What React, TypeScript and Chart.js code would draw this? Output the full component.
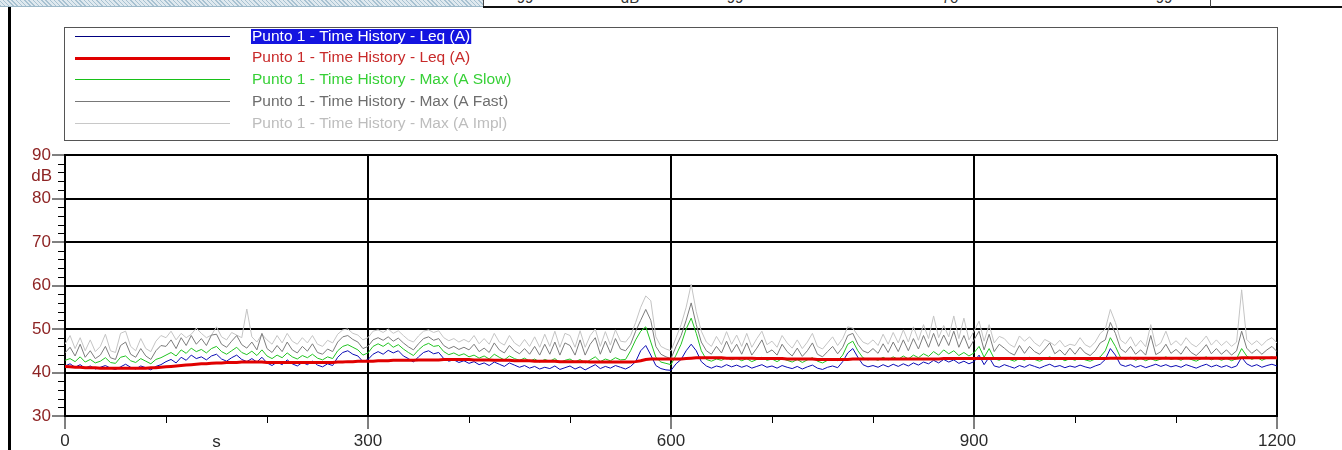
import React, { useEffect, useRef } from "react";
import { Chart, registerables } from "chart.js";

Chart.register(...registerables);

// sample times (s), one every 5 s from 0 to 1200
const times: number[] = Array.from({ length: 241 }, (_, i) => i * 5);

const xTickValues = [0, 300, 600, 900, 1200];
const yTickValues = [30, 40, 50, 60, 70, 80, 90];

const legendLabels = [
  "Punto 1 - Time History - Leq (A)",
  "Punto 1 - Time History - Leq (A)",
  "Punto 1 - Time History - Max (A Slow)",
  "Punto 1 - Time History - Max (A Fast)",
  "Punto 1 - Time History - Max (A Impl)",
];

const topStripTexts = ["99", "dB", "99", "70", "99"];

// Leq (A) short, blue
const leqShort = [
  41.5, 42, 41.2, 41.8, 41, 41.5, 40.8, 41.2, 41.6, 41, 40.7, 41.3, 41.9, 41.2, 40.8, 41.5, 41.1, 40.6, 41.4, 41.8,
  42.5, 43, 42.2, 43.5, 42.8, 44, 43.2, 43.6, 42.9, 43.8, 44.2, 43.1, 42.6, 43.4, 44, 43, 42.5, 43.2, 42.4, 43.5,
  42.2, 41.6, 42.4, 41.8, 42.9, 42, 41.5, 42.3, 41.8, 42.6, 41.7, 41.3, 42, 41.6, 43.5, 44.6, 45, 44.2, 43.8, 42.5,
  43, 44.2, 44.8, 44.2, 45.1, 44.5, 45, 43.8, 43.2, 42.4, 43.6, 44.6, 45, 44.3, 44.6, 43.2, 42.6, 42.9, 42.3, 42.7,
  42.1, 42.5, 41.8, 42.2, 41.6, 42.4, 41.9, 41.4, 42.2, 41.7, 41.2, 41.6, 41, 41.4, 40.8, 41.2, 40.9, 41.5, 40.7, 41.1,
  41.5, 40.8, 41.3, 40.6, 41.2, 41.8, 40.9, 41.4, 41, 41.6, 41.2, 40.8, 41.4, 42.5, 45, 46.2, 44, 41.6, 40.9, 40.6,
  40.5, 42, 43, 45, 46.5, 45, 42.5, 41.5, 41, 41.5, 41.2, 41.8, 41.3, 41.7, 41.2, 41.6, 41, 41.4, 41.8, 41.2,
  41.5, 41, 41.6, 41.2, 40.9, 41.4, 40.8, 41.3, 41.7, 41, 40.7, 41.2, 41.5, 41.1, 42.5, 44.5, 45.5, 43.5, 41.8, 41.3,
  41.6, 41.2, 41.8, 41.3, 41.9, 41.4, 42, 41.5, 42.2, 41.7, 42.4, 42, 42.8, 42.2, 43, 42.4, 42.9, 42.1, 42.6, 42,
  42.5, 44, 41.8, 43.5, 41.5, 41.2, 41.8, 41.4, 41, 41.6, 41.2, 41.8, 41.4, 41, 41.5, 41.9, 41.3, 41.6, 41.1, 41.5,
  41.2, 41.7, 41.3, 41, 41.5, 41.9, 43, 45.5, 44, 41.8, 41.4, 41.8, 41.2, 41.6, 41.1, 41.5, 41.9, 41.4, 41.8, 41.3,
  41.6, 41.2, 41.8, 41.4, 41, 41.5, 41.9, 41.3, 41.7, 41.2, 41.6, 41.1, 41.5, 43.5, 42, 41.4, 41.8, 41.2, 41.6, 41.9,
  41.5,
];

// Leq (A) running, red
const leqRunning = [
  41.4, 41.3, 41.2, 41.2, 41.1, 41.1, 41.1, 41, 41, 41, 41, 41, 41, 41, 41, 41, 41, 41.1, 41.1, 41.2,
  41.3, 41.4, 41.5, 41.6, 41.7, 41.8, 41.9, 42, 42, 42.1, 42.2, 42.2, 42.3, 42.3, 42.3, 42.4, 42.4, 42.4, 42.4, 42.4,
  42.3, 42.3, 42.3, 42.3, 42.3, 42.3, 42.3, 42.3, 42.3, 42.3, 42.3, 42.3, 42.3, 42.3, 42.4, 42.4, 42.5, 42.5, 42.6, 42.6,
  42.6, 42.6, 42.7, 42.7, 42.7, 42.8, 42.8, 42.8, 42.8, 42.8, 42.9, 42.9, 42.9, 42.9, 42.9, 43, 43, 43, 43, 43,
  43, 42.9, 42.9, 42.9, 42.9, 42.8, 42.8, 42.8, 42.8, 42.7, 42.7, 42.7, 42.7, 42.6, 42.6, 42.6, 42.6, 42.6, 42.5, 42.5,
  42.5, 42.5, 42.5, 42.5, 42.4, 42.4, 42.4, 42.4, 42.4, 42.4, 42.4, 42.4, 42.4, 42.5, 42.7, 43, 43.1, 43.1, 43.1, 43.1,
  43.1, 43.1, 43.1, 43.2, 43.3, 43.4, 43.4, 43.4, 43.4, 43.4, 43.4, 43.3, 43.3, 43.3, 43.3, 43.3, 43.3, 43.2, 43.2, 43.2,
  43.2, 43.2, 43.2, 43.1, 43.1, 43.1, 43.1, 43.1, 43.1, 43, 43, 43, 43, 43, 43, 43, 43.1, 43.1, 43.1, 43.1,
  43.1, 43.1, 43.1, 43.1, 43.1, 43.1, 43.1, 43.1, 43.1, 43.1, 43.1, 43.1, 43.1, 43.1, 43.2, 43.2, 43.2, 43.2, 43.2, 43.2,
  43.2, 43.2, 43.2, 43.2, 43.2, 43.2, 43.2, 43.2, 43.2, 43.2, 43.2, 43.2, 43.2, 43.2, 43.2, 43.2, 43.2, 43.2, 43.2, 43.2,
  43.2, 43.2, 43.2, 43.2, 43.2, 43.2, 43.2, 43.3, 43.3, 43.3, 43.3, 43.3, 43.3, 43.3, 43.3, 43.3, 43.3, 43.3, 43.3, 43.3,
  43.3, 43.3, 43.3, 43.3, 43.3, 43.3, 43.3, 43.3, 43.3, 43.3, 43.3, 43.3, 43.3, 43.4, 43.4, 43.4, 43.4, 43.4, 43.4, 43.4,
  43.4,
];

// Max (A Slow), green
const maxSlow = [
  42.8, 43.2, 42.5, 43.6, 42.4, 43, 42.2, 42.6, 43.4, 42.3, 42.1, 43.5, 43.8, 42.7, 42.3, 43.2, 42.6, 42, 43, 43.4,
  44, 44.6, 43.8, 45.2, 44.4, 45.6, 44.8, 45.3, 44.5, 45.5, 46, 44.8, 44.2, 45, 45.8, 44.6, 44.1, 44.9, 43.9, 45.2,
  43.8, 43.2, 44, 43.4, 44.5, 43.6, 43.1, 43.9, 43.4, 44.2, 43.3, 42.9, 43.6, 43.2, 45, 46, 46.4, 45.8, 45.2, 44,
  44.5, 46, 46.6, 46, 46.8, 45.8, 46.4, 45.4, 44.6, 43.9, 45.2, 46.2, 46.7, 46, 46.2, 44.8, 44.1, 44.5, 43.9, 44.3,
  43.6, 44, 43.3, 43.8, 43.1, 44.2, 43.5, 42.9, 43.8, 43.2, 42.8, 43.3, 42.6, 43.1, 42.4, 43, 42.6, 43.2, 42.3, 42.8,
  43.1, 42.4, 43, 42.2, 42.9, 43.6, 42.5, 43.1, 42.7, 43.4, 42.9, 43, 45, 47.5, 49.5, 50.5, 47, 43.5, 42.4, 42.1,
  41.8, 44, 46.5, 50, 52.5, 49, 45, 43, 42.6, 43.1, 42.8, 43.4, 42.9, 43.3, 42.7, 43.2, 42.5, 43, 43.5, 42.8,
  43.1, 42.5, 43.2, 42.8, 42.4, 43, 42.3, 42.9, 43.4, 42.6, 42.2, 42.8, 43.1, 42.7, 44, 46.5, 47.2, 45, 43.4, 42.9,
  43.2, 42.8, 43.5, 42.9, 43.6, 43, 43.8, 43.1, 44, 43.4, 44.3, 43.7, 44.8, 44, 45.2, 44.3, 45, 43.9, 44.6, 43.8,
  44.5, 46, 43.5, 45.5, 43.2, 42.8, 43.4, 43, 42.6, 43.2, 42.8, 43.5, 43, 42.6, 43.1, 43.6, 42.9, 43.3, 42.7, 43.2,
  42.8, 43.4, 42.9, 42.6, 43.1, 43.6, 45, 48, 46, 43.5, 43, 43.5, 42.8, 43.3, 42.7, 43.2, 42.7, 43.1, 43.6, 43,
  43.3, 42.8, 43.5, 43, 42.6, 43.2, 43.6, 42.9, 43.4, 42.8, 43.3, 42.7, 43.2, 45.5, 43.8, 43, 43.5, 42.8, 43.3, 43.6,
  43.1,
];

// Max (A Fast), dark grey
const maxFast = [
  44.5, 45.8, 43.8, 46.5, 43.5, 45, 43.2, 44, 46, 43.4, 43, 46.2, 47, 44.2, 43.5, 45.5, 43.8, 43, 45, 46.2,
  46, 47.5, 45.5, 48, 46.2, 48.5, 46.5, 47.8, 46.2, 48.6, 48.8, 46.5, 45.8, 47.2, 48.5, 46.4, 45.6, 47, 45.2, 49,
  45.5, 44.6, 46.2, 44.8, 47, 45.2, 44.5, 46, 44.9, 46.6, 44.6, 44.2, 45.4, 44.8, 47, 48.2, 48.5, 47.6, 47, 45.5,
  46, 47.5, 48, 47.4, 48.2, 47.2, 47.9, 46.8, 45.9, 45.2, 46.6, 47.8, 48.2, 47.4, 47.8, 46.2, 45.5, 46, 45.3, 45.8,
  45.2, 46.5, 44.8, 45.6, 44.6, 46.8, 45.2, 44.5, 46.2, 45, 44.3, 45.5, 44.2, 46, 44, 46.5, 44.2, 47, 44, 46.8,
  46.2, 44, 47.5, 44, 46.5, 48, 44.2, 47.2, 44.5, 47.8, 45.4, 45, 46.5, 49.5, 52, 54.5, 52, 46, 44.2, 43.6,
  43.2, 46, 48.5, 52, 56, 51, 47, 45, 44.2, 46, 44.5, 47.2, 44.6, 46.5, 44.2, 46.8, 44, 45.6, 47.5, 44.5,
  45.2, 44, 46.5, 44.8, 43.8, 45.6, 43.7, 45, 46.8, 44.2, 43.6, 44.8, 46, 44.3, 45.8, 48.5, 49, 46.5, 45, 44.5,
  45.5, 44.4, 46.6, 44.6, 47, 44.8, 47.5, 45, 47.8, 45.4, 48.5, 45.8, 49, 46, 48.6, 46.2, 49.5, 45.8, 48.5, 45.5,
  47.5, 49.5, 45.2, 48.8, 44.8, 46.5, 45.6, 44.6, 44, 46.2, 44.4, 46, 44.8, 44.2, 45.4, 46.8, 44.3, 45.2, 44, 45.6,
  44.2, 45.8, 44.5, 43.9, 45, 46.8, 47.5, 51.5, 49, 45.5, 44.6, 46, 44.2, 45.2, 44, 48.5, 44.1, 44.8, 46.5, 44.4,
  45.3, 44.2, 46, 44.6, 43.9, 45, 46.4, 44.3, 45.5, 44.2, 45.2, 44, 45, 49.5, 45.6, 44.4, 45.3, 44.2, 45.2, 46,
  44.8,
];

// Max (A Impl), light grey
const maxImpl = [
  46.5, 48.5, 45.5, 48, 45, 47.5, 44.8, 46, 48.8, 45, 44.6, 49, 49.5, 46, 45, 47.8, 45.5, 44.8, 47.2, 48.5,
  48, 49.5, 47.5, 49, 48, 48.8, 50.2, 49, 48, 48.6, 50.5, 48.2, 47.5, 49.2, 48.6, 48, 54.6, 48.2, 47, 48.8,
  47.5, 46.5, 48.5, 46.8, 49, 47.2, 46.5, 48, 46.8, 48.5, 46.5, 46, 47.4, 46.8, 48.8, 49.8, 50, 49, 48.6, 47.5,
  48, 49.5, 49.8, 49.2, 50, 49, 49.6, 48.5, 47.5, 47, 48.4, 49.5, 49.8, 49.2, 49.6, 48, 47.3, 47.8, 47, 47.6,
  47, 48.5, 46.6, 47.8, 46.5, 49, 47, 46.3, 48.5, 46.8, 46, 47.6, 46, 48.2, 45.8, 48.8, 46, 49.5, 45.8, 49,
  48.5, 45.8, 49.6, 45.8, 48.5, 50, 46, 49.4, 46.3, 49.8, 47.2, 47, 48.5, 51.5, 55, 57.6, 56.5, 48.2, 46, 45.4,
  45, 48, 51, 55, 60.3, 54, 49.5, 47, 46, 48.3, 46.4, 49.4, 46.5, 48.6, 46, 49, 45.8, 47.8, 49.5, 46.4,
  47.2, 45.8, 48.5, 46.8, 45.6, 47.5, 45.5, 47, 49, 46, 45.4, 46.8, 48.2, 46.2, 47.8, 50.5, 50.2, 48.5, 47, 46.5,
  47.5, 46.2, 48.8, 46.5, 49.2, 46.8, 49.8, 47, 50.5, 47.4, 51, 47.8, 53, 48, 50.8, 48.2, 53, 47.8, 52.5, 47.5,
  49.5, 51.8, 47.2, 51, 46.8, 48.3, 47.8, 46.5, 45.8, 48.4, 47.2, 48.2, 46.8, 46, 47.6, 47, 46.2, 47.4, 45.9, 46.5,
  46.2, 48, 46.4, 45.8, 47, 49, 50, 54.5, 51.5, 47.5, 46.6, 48.2, 46, 47.4, 45.9, 51, 46, 46.8, 49.5, 46.3,
  47.3, 46.2, 48, 46.6, 45.9, 47, 48.4, 46.3, 47.5, 46.2, 47.2, 46, 47, 59, 47.6, 46.4, 47.3, 46.2, 47.4, 48,
  46.8,
];

const FONT = "'Liberation Sans', Arial, sans-serif";

const seriesStyle = [
  { color: "#0a0ab4", legendLine: "#000080", text: "#ffffff", width: 1, legendWidth: 1 },
  { color: "#e00000", legendLine: "#e00000", text: "#c82a2a", width: 3, legendWidth: 3 },
  { color: "#22c422", legendLine: "#18c018", text: "#36d036", width: 1, legendWidth: 1 },
  { color: "#7c7c7c", legendLine: "#787878", text: "#6e6e6e", width: 1, legendWidth: 1 },
  { color: "#c4c4c4", legendLine: "#c8c8c8", text: "#bdbdbd", width: 1, legendWidth: 1 },
];

const pts = (arr: number[]) => times.map((t, i) => ({ x: t, y: arr[i] }));

const overlayPlugin = {
  id: "overlay",
  afterDraw(chart: any) {
    const { ctx, chartArea, scales } = chart;
    const xs = scales.x;
    const ys = scales.y;
    ctx.save();
    // minor y ticks every 2 dB
    ctx.strokeStyle = "#000";
    ctx.lineWidth = 1;
    for (let v = ys.min; v <= ys.max; v += 2) {
      if (v % 10 === 0) continue;
      const py = Math.round(ys.getPixelForValue(v)) + 0.5;
      ctx.beginPath();
      ctx.moveTo(chartArea.left - 7, py);
      ctx.lineTo(chartArea.left, py);
      ctx.stroke();
    }
    // minor x ticks every 100 s
    for (let v = xs.min; v <= xs.max; v += 100) {
      if (v % 300 === 0) continue;
      const px = Math.round(xs.getPixelForValue(v)) + 0.5;
      ctx.beginPath();
      ctx.moveTo(px, chartArea.bottom);
      ctx.lineTo(px, chartArea.bottom + 7);
      ctx.stroke();
    }
    // unit labels
    ctx.font = `17px ${FONT}`;
    ctx.fillStyle = "#8e2424";
    ctx.textAlign = "right";
    ctx.textBaseline = "middle";
    ctx.fillText("dB", chartArea.left - 13, ys.getPixelForValue(85));
    ctx.fillStyle = "#2a2a2a";
    ctx.textAlign = "center";
    ctx.fillText("s", xs.getPixelForValue(150), 442);

    // legend box
    const bx = 64.5, by = 27.5, bw = 1213, bh = 113;
    ctx.strokeStyle = "#555";
    ctx.lineWidth = 1;
    ctx.strokeRect(bx, by, bw, bh);
    ctx.font = `15.5px ${FONT}`;
    ctx.textAlign = "left";
    ctx.textBaseline = "middle";
    legendLabels.forEach((label, i) => {
      const st = seriesStyle[i];
      const cy = 36 + i * 21.7;
      ctx.strokeStyle = st.legendLine;
      ctx.lineWidth = st.legendWidth;
      ctx.beginPath();
      const ly = st.legendWidth % 2 === 1 ? Math.round(cy) + 0.5 : Math.round(cy);
      ctx.moveTo(75, ly);
      ctx.lineTo(230, ly);
      ctx.stroke();
      const tx = 252;
      if (i === 0) {
        const w = ctx.measureText(label).width;
        ctx.fillStyle = "#1414e0";
        ctx.fillRect(tx - 1, Math.round(cy) - 7, w + 2, 15);
      }
      ctx.fillStyle = st.text;
      ctx.fillText(label, tx, cy + 0.5);
    });
    ctx.restore();
  },
};

function App() {
  const canvasRef = useRef<HTMLCanvasElement | null>(null);

  useEffect(() => {
    const canvas = canvasRef.current;
    if (!canvas) return;
    const dataArrays = [leqShort, leqRunning, maxSlow, maxFast, maxImpl];
    const orders = [1, 0, 2, 3, 4];
    const chart = new Chart(canvas, {
      type: "line",
      data: {
        datasets: dataArrays.map((arr, i) => ({
          label: legendLabels[i],
          data: pts(arr),
          borderColor: seriesStyle[i].color,
          borderWidth: seriesStyle[i].width,
          pointRadius: 0,
          tension: 0,
          fill: false,
          order: orders[i],
        })),
      },
      options: {
        animation: false,
        responsive: false,
        devicePixelRatio: 1,
        events: [],
        layout: { padding: { left: 0, top: 155, right: 65, bottom: 0 } },
        plugins: {
          legend: { display: false },
          tooltip: { enabled: false },
          title: { display: false },
        },
        scales: {
          x: {
            type: "linear",
            min: 0,
            max: 1200,
            afterFit: (s: any) => {
              s.height = 34;
            },
            afterBuildTicks: (s: any) => {
              s.ticks = xTickValues.map((v) => ({ value: v }));
            },
            ticks: {
              autoSkip: false,
              maxRotation: 0,
              padding: 2,
              color: "#2a2a2a",
              font: { family: FONT, size: 17 },
              callback: (v: any) => String(v),
            },
            grid: {
              color: "#000",
              lineWidth: 2,
              drawTicks: true,
              tickLength: 13,
              tickColor: "#000",
              tickWidth: 1,
            },
            border: { display: true, color: "#000", width: 2 },
          },
          y: {
            type: "linear",
            min: 30,
            max: 90,
            afterFit: (s: any) => {
              s.width = 65;
            },
            afterBuildTicks: (s: any) => {
              s.ticks = yTickValues.map((v) => ({ value: v }));
            },
            ticks: {
              autoSkip: false,
              padding: 1,
              color: "#8e2424",
              font: { family: FONT, size: 17 },
              callback: (v: any) => String(v),
            },
            grid: {
              color: "#000",
              lineWidth: 2,
              drawTicks: true,
              tickLength: 13,
              tickColor: "#000",
              tickWidth: 1,
            },
            border: { display: true, color: "#000", width: 2 },
          },
        },
      },
      plugins: [overlayPlugin],
    });
    return () => chart.destroy();
  }, []);

  const stripTextPos = [525, 630, 735, 950, 1164];

  return (
    <div
      style={{
        position: "fixed",
        left: 0,
        top: 0,
        width: 1342,
        height: 450,
        background: "#fff",
        overflow: "hidden",
      }}
    >
      {/* top strip fragment */}
      <div
        style={{
          position: "absolute",
          left: 0,
          top: 0,
          width: 483,
          height: 6,
          backgroundColor: "#dfe9ef",
          backgroundImage:
            "repeating-linear-gradient(45deg, #a8c2d2 0px, #a8c2d2 1px, transparent 1px, transparent 3px)",
          borderBottom: "1px solid #9db8c8",
        }}
      />
      <div style={{ position: "absolute", left: 483, top: 0, width: 1, height: 7, background: "#444" }} />
      <div style={{ position: "absolute", left: 483, top: 6, width: 859, height: 2, background: "#111" }} />
      <div style={{ position: "absolute", left: 1210, top: 0, width: 1, height: 7, background: "#444" }} />
      {topStripTexts.map((t, i) => (
        <span
          key={i}
          style={{
            position: "absolute",
            left: stripTextPos[i],
            top: -10,
            transform: "translateX(-50%)",
            fontFamily: FONT,
            fontSize: 15,
            lineHeight: "15px",
            color: "#333",
            whiteSpace: "nowrap",
          }}
        >
          {t}
        </span>
      ))}
      {/* left frame line */}
      <div style={{ position: "absolute", left: 8, top: 7, width: 3, height: 443, background: "#000" }} />
      <canvas
        ref={canvasRef}
        width={1342}
        height={450}
        style={{ position: "absolute", left: 0, top: 0, width: 1342, height: 450 }}
      />
    </div>
  );
}

export default App;
